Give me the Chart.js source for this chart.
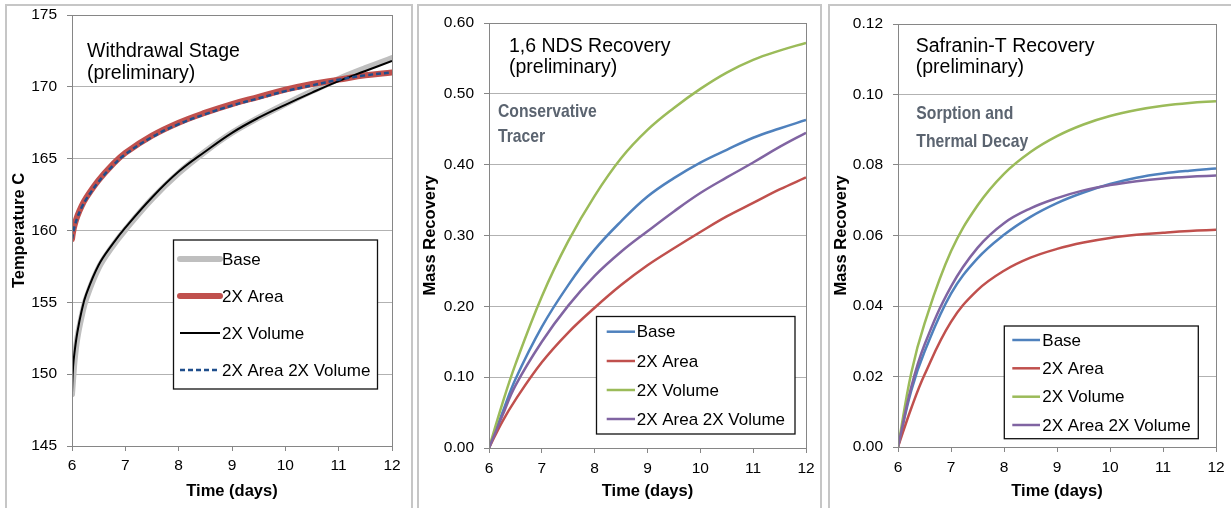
<!DOCTYPE html>
<html>
<head>
<meta charset="utf-8">
<script src="https://cdn.jsdelivr.net/npm/chart.js@4.4.1/dist/chart.umd.min.js"></script>
<style>
  body { margin: 0; background: #fff; width: 1231px; height: 508px; overflow: hidden; position: relative; }
  .panel { position: absolute; top: 4px; height: 520px; border: 2px solid #c6c6c6; border-bottom: none; box-sizing: border-box; }
  canvas { position: absolute; }
</style>
</head>
<body>
<div class="panel" style="left:5px;width:408px"></div>
<div class="panel" style="left:417px;width:405px"></div>
<div class="panel" style="left:828px;width:420px"></div>
<canvas id="chartWithdrawal" width="404" height="502" style="left:7px;top:6px"></canvas>
<canvas id="chartNds" width="401" height="502" style="left:419px;top:6px"></canvas>
<canvas id="chartSafranin" width="401" height="502" style="left:830px;top:6px"></canvas>
<script>
// ---- data ----
const seriesNames = ["Base", "2X Area", "2X Volume", "2X Area 2X Volume"];

// withdrawal stage temperature, deg C
const timeWithdrawal = [6.0, 6.02, 6.05, 6.1, 6.18, 6.27, 6.5, 6.75, 7, 7.5, 8, 8.5, 9, 9.5, 10, 10.5, 11, 11.5, 12];
const tempBase       = [148.6, 149.6, 151.0, 152.5, 154.0, 155.3, 157.4, 158.85, 160.05, 162.2, 164.0, 165.5, 166.8, 167.85, 168.8, 169.7, 170.55, 171.3, 172.0];
const tempArea       = [159.4, 159.9, 160.4, 161.0, 161.7, 162.3, 163.5, 164.55, 165.4, 166.6, 167.5, 168.2, 168.8, 169.3, 169.8, 170.2, 170.5, 170.8, 171.0];
const tempVolume     = [148.7, 150.5, 151.6, 152.9, 154.4, 155.6, 157.6, 159.0, 160.2, 162.3, 164.1, 165.5, 166.8, 167.85, 168.75, 169.6, 170.4, 171.1, 171.8];
const tempAreaVolume = [159.4, 159.8, 160.3, 160.9, 161.6, 162.2, 163.4, 164.45, 165.3, 166.5, 167.4, 168.1, 168.7, 169.2, 169.7, 170.1, 170.5, 170.8, 171.0];
const tempTicks = [145, 175, 5];

// mass recovery curves
const timeRecovery = [6, 6.25, 6.5, 7, 7.5, 8, 8.5, 9, 9.5, 10, 10.5, 11, 11.5, 12];
const ndsBase       = [0, 0.049, 0.097, 0.171, 0.230, 0.280, 0.320, 0.355, 0.381, 0.403, 0.421, 0.438, 0.451, 0.463];
const ndsArea       = [0, 0.037, 0.068, 0.121, 0.163, 0.198, 0.230, 0.258, 0.282, 0.305, 0.327, 0.346, 0.365, 0.382];
const ndsVolume     = [0, 0.062, 0.118, 0.214, 0.292, 0.356, 0.409, 0.449, 0.480, 0.507, 0.530, 0.548, 0.561, 0.572];
const ndsAreaVolume = [0, 0.045, 0.088, 0.150, 0.201, 0.243, 0.277, 0.306, 0.334, 0.360, 0.382, 0.403, 0.425, 0.445];
const ndsTicks = [0, 0.6, 0.1];

const safBase       = [0, 0.016, 0.027, 0.0435, 0.0535, 0.0602, 0.0653, 0.0692, 0.0722, 0.0746, 0.0764, 0.0776, 0.0784, 0.0790];
const safArea       = [0, 0.011, 0.0205, 0.0355, 0.0445, 0.0500, 0.0537, 0.0562, 0.0580, 0.0593, 0.0602, 0.0608, 0.0613, 0.0616];
const safVolume     = [0, 0.021, 0.035, 0.0555, 0.0685, 0.0775, 0.0837, 0.0882, 0.0915, 0.0939, 0.0956, 0.0968, 0.0976, 0.0981];
const safAreaVolume = [0, 0.017, 0.029, 0.0455, 0.0565, 0.0635, 0.0677, 0.0706, 0.0728, 0.0743, 0.0754, 0.0762, 0.0767, 0.0770];
const safTicks = [0, 0.12, 0.02];

// ---- helpers ----
const SANS = '"Liberation Sans", Arial, sans-serif';
Chart.defaults.font.family = SANS;
Chart.defaults.color = "#000";

const pts = (xs, ys) => xs.map((x, i) => ({ x, y: ys[i] }));

function line (label, xs, ys, color, width, order, extra) {
  return Object.assign({
    label,
    data: pts(xs, ys),
    borderColor: color,
    backgroundColor: color,
    borderWidth: width,
    pointRadius: 0,
    tension: 0.4,
    fill: false,
    order
  }, extra || {});
}

// frame, text notes and boxed legend drawn on top of the plot
const panelDecor = {
  id: "panelDecor",
  afterDraw (chart, args, opts) {
    const { ctx, chartArea: a } = chart;
    ctx.save();
    ctx.strokeStyle = "#868686";
    ctx.lineWidth = 1;
    ctx.strokeRect(Math.round(a.left) + 0.5, Math.round(a.top) + 0.5, Math.round(a.right - a.left), Math.round(a.bottom - a.top));

    (opts.notes || []).forEach((n) => {
      ctx.save();
      ctx.font = n.font;
      ctx.fillStyle = n.color;
      ctx.textBaseline = "alphabetic";
      ctx.textAlign = "left";
      ctx.translate(n.x, n.y);
      ctx.scale(n.stretch || 1, 1); // narrow face is not installed, squeeze the bold one
      ctx.fillText(n.text, 0, 0);
      ctx.restore();
    });

    const lg = opts.legend;
    if (lg) {
      ctx.fillStyle = "#fff";
      ctx.fillRect(lg.x, lg.y, lg.w, lg.h);
      ctx.strokeStyle = "#111";
      ctx.lineWidth = 1.3;
      ctx.strokeRect(lg.x, lg.y, lg.w, lg.h);
      chart.data.datasets.forEach((ds, i) => {
        const y = lg.rows[i];
        ctx.save();
        ctx.strokeStyle = ds.borderColor;
        ctx.lineWidth = ds.borderWidth;
        ctx.lineCap = ds.borderCapStyle || "butt";
        ctx.setLineDash(ds.borderDash || []);
        ctx.beginPath();
        ctx.moveTo(lg.sample[0], y);
        ctx.lineTo(lg.sample[1], y);
        ctx.stroke();
        ctx.restore();
        ctx.font = "17px " + SANS;
        ctx.fillStyle = "#000";
        ctx.textBaseline = "middle";
        ctx.textAlign = "left";
        ctx.fillText(ds.label, lg.textX, y + 1);
      });
    }
    ctx.restore();
  }
};

function makeChart (id, datasets, yTicks, yTitle, box, decor, yTitlePad, xTickPad, fmt) {
  return new Chart(document.getElementById(id), {
    type: "line",
    data: { datasets },
    plugins: [panelDecor],
    options: {
      responsive: false,
      animation: false,
      layout: { padding: { left: 0, top: box.top, right: box.right, bottom: 0 } },
      plugins: {
        legend: { display: false },
        tooltip: { enabled: false },
        panelDecor: decor
      },
      scales: {
        x: {
          type: "linear",
          min: 6,
          max: 12,
          afterFit: (s) => { s.height = box.xHeight; s.paddingLeft = 0; s.paddingRight = 0; },
          ticks: { stepSize: 1, padding: xTickPad, font: { size: 15.5 }, color: "#000" },
          grid: { drawOnChartArea: false, drawTicks: true, tickLength: 5, color: "#868686" },
          border: { color: "#868686", width: 1 },
          title: { display: true, text: "Time (days)", font: { size: 16.5, weight: "bold" }, color: "#000", padding: { top: 0, bottom: 7 } }
        },
        y: {
          min: yTicks[0],
          max: yTicks[1],
          afterFit: (s) => { s.width = box.yWidth; s.paddingTop = 0; s.paddingBottom = 0; },
          ticks: { stepSize: yTicks[2], padding: 10, font: { size: 15.5 }, color: "#000", callback: fmt },
          grid: { color: "#b2b2b2", tickColor: "#868686", tickLength: 5, lineWidth: 1 },
          border: { color: "#868686", width: 1 },
          title: { display: true, text: yTitle, font: { size: 16.5, weight: "bold" }, color: "#000", padding: { top: yTitlePad, bottom: 0 } }
        }
      }
    }
  });
}

// ---- chart 1: withdrawal stage ----
makeChart("chartWithdrawal", [
  line(seriesNames[0], timeWithdrawal, tempBase, "#bfbfbf", 6, 4, { borderCapStyle: "round" }),
  line(seriesNames[1], timeWithdrawal, tempArea, "#c0504d", 6, 3, { borderCapStyle: "round" }),
  line(seriesNames[2], timeWithdrawal, tempVolume, "#000000", 2, 2),
  line(seriesNames[3], timeWithdrawal, tempAreaVolume, "#1f4e8c", 2.5, 1, { borderDash: [5, 3] })
], tempTicks, "Temperature C", { top: 9, right: 19, xHeight: 62, yWidth: 65 }, {
  notes: [
    { text: "Withdrawal Stage", x: 80, y: 51.3, font: "19.5px " + SANS, color: "#000" },
    { text: "(preliminary)", x: 80, y: 72.7, font: "19.5px " + SANS, color: "#000" }
  ],
  legend: { x: 166.5, y: 234, w: 204, h: 149, rows: [253, 290, 327, 364], sample: [173, 213], textX: 215 }
}, 3, 5, (v) => v);

// ---- chart 2: 1,6 NDS ----
makeChart("chartNds", [
  line(seriesNames[0], timeRecovery, ndsBase, "#4f81bd", 2.5, 4),
  line(seriesNames[1], timeRecovery, ndsArea, "#c0504d", 2.5, 3),
  line(seriesNames[2], timeRecovery, ndsVolume, "#9bbb59", 2.5, 2),
  line(seriesNames[3], timeRecovery, ndsAreaVolume, "#8064a2", 2.5, 1)
], ndsTicks, "Mass Recovery", { top: 17, right: 14, xHeight: 60, yWidth: 70 }, {
  notes: [
    { text: "1,6 NDS Recovery", x: 90, y: 45.7, font: "19.5px " + SANS, color: "#000" },
    { text: "(preliminary)", x: 90, y: 67.3, font: "19.5px " + SANS, color: "#000" },
    { text: "Conservative", x: 79, y: 111.3, font: "bold 18.5px " + SANS, color: "#5b6470", stretch: 0.85 },
    { text: "Tracer", x: 79, y: 135.7, font: "bold 18.5px " + SANS, color: "#5b6470", stretch: 0.85 }
  ],
  legend: { x: 177.5, y: 310.5, w: 198.5, h: 117.5, rows: [325.7, 355, 384, 413], sample: [187.7, 216], textX: 217.7 }
}, 2, 6, (v) => v.toFixed(2));

// ---- chart 3: Safranin-T ----
makeChart("chartSafranin", [
  line(seriesNames[0], timeRecovery, safBase, "#4f81bd", 2.5, 4),
  line(seriesNames[1], timeRecovery, safArea, "#c0504d", 2.5, 3),
  line(seriesNames[2], timeRecovery, safVolume, "#9bbb59", 2.5, 2),
  line(seriesNames[3], timeRecovery, safAreaVolume, "#8064a2", 2.5, 1)
], safTicks, "Mass Recovery", { top: 18, right: 15, xHeight: 61, yWidth: 68 }, {
  notes: [
    { text: "Safranin-T Recovery", x: 85.7, y: 45.7, font: "19.5px " + SANS, color: "#000" },
    { text: "(preliminary)", x: 85.7, y: 67.3, font: "19.5px " + SANS, color: "#000" },
    { text: "Sorption and", x: 86.3, y: 113, font: "bold 18.5px " + SANS, color: "#5b6470", stretch: 0.85 },
    { text: "Thermal Decay", x: 86.3, y: 141, font: "bold 18.5px " + SANS, color: "#5b6470", stretch: 0.85 }
  ],
  legend: { x: 174.3, y: 320, w: 194, h: 112.7, rows: [334, 362.3, 390.7, 419], sample: [182.3, 210], textX: 212.3 }
}, 2, 6, (v) => v.toFixed(2));
</script>
</body>
</html>
